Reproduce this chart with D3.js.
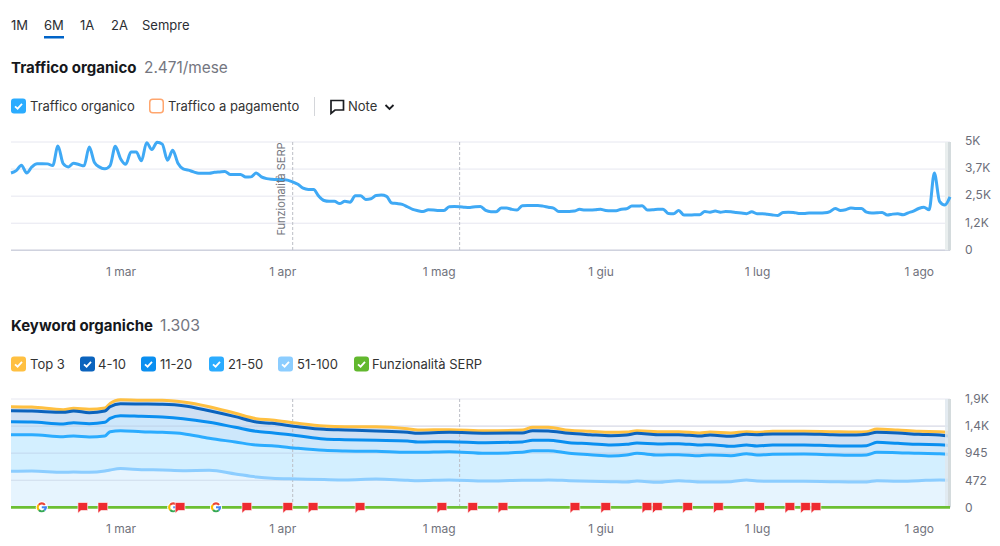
<!DOCTYPE html>
<html><head><meta charset="utf-8">
<script src="https://cdn.jsdelivr.net/npm/d3@7"></script>
<style>
html,body{margin:0;padding:0;background:#fff;overflow:hidden}
svg{display:block}
text{font-family:Inter,"Noto Sans",sans-serif}
</style></head><body>
<svg id="c" width="1000" height="546"></svg>
<script>
// ---------- data ----------
const rangeTabs = ["1M","6M","1A","2A","Sempre"];
const monthTicks = ["2021-03-01","2021-04-01","2021-05-01","2021-06-01","2021-07-01","2021-08-01"];
const monthLabels = ["1 mar","1 apr","1 mag","1 giu","1 lug","1 ago"];
const firstDay = "2021-02-08", lastDay = "2021-08-07";
const annotationDates = ["2021-04-03","2021-05-05"];

const trafficTicks = [0,1250,2500,3750,5000];
const trafficTickLabels = ["0","1,2K","2,5K","3,7K","5K"];
// daily organic traffic, from firstDay on
const trafficValues = [3570,3680,3930,3570,3850,4000,4000,3990,3910,4820,4000,3850,4020,3960,3900,4770,4050,3840,3760,3910,
4800,4230,3970,4540,4540,4130,4970,4650,4990,4900,4160,4620,4020,3760,3700,3620,3560,3560,3560,3600,
3620,3640,3500,3500,3500,3380,3390,3570,3390,3310,3280,3270,3270,3240,3160,3050,2870,2810,2810,2500,
2300,2260,2260,2160,2260,2220,2520,2520,2350,2380,2530,2550,2490,2180,2160,2120,2010,1890,1830,1790,
1870,1860,1840,1840,2010,2020,2010,1990,1980,2010,2020,1840,1780,1780,1950,1950,1890,1860,2060,2070,
2070,2070,2040,1990,1950,1790,1790,1790,1810,1890,1860,1860,1870,1890,1840,1830,1830,1900,1920,2040,
2040,2060,1860,1870,1890,1900,1700,1690,1840,1630,1630,1640,1640,1790,1760,1810,1760,1790,1780,1750,
1720,1690,1780,1690,1690,1660,1630,1610,1750,1760,1750,1700,1700,1720,1720,1720,1730,1790,1930,1840,
1870,1950,1930,1930,1760,1720,1730,1750,1630,1670,1690,1640,1730,1810,1930,1990,1870,3570,2260,2090,2470];

const keywordTicks = [0,472,945,1417,1890];
const keywordTickLabels = ["0","472","945","1,4K","1,9K"];
// day offsets from firstDay at which the keyword lines were read
const keywordDays = [0,4,10,12,15,18,19,21,25,29,33,38,43,47,50,55,60,64,70,76,78,84,91,98,100,103,107,111,115,118,120,124,128,132,134,138,141,143,146,152,157,162,164,166,170,174,178,180];
// cumulative stacked levels, as the axis reads them
const top3Levels = [1756,1750,1704,1727,1710,1733,1814,1878,1867,1867,1838,1756,1640,1547,1524,1465,1419,1407,1407,1372,1349,1355,1337,1349,1396,1396,1343,1326,1308,1314,1337,1320,1320,1297,1314,1297,1320,1308,1326,1326,1320,1314,1320,1367,1349,1326,1320,1303];
const pos4to10Levels = [1686,1681,1657,1681,1651,1681,1756,1808,1803,1797,1774,1686,1582,1489,1465,1407,1361,1349,1332,1308,1291,1308,1291,1297,1337,1332,1291,1268,1250,1262,1291,1268,1268,1244,1262,1239,1273,1268,1279,1279,1268,1262,1273,1308,1297,1273,1262,1239];
const pos11to20Levels = [1494,1489,1454,1477,1460,1483,1553,1599,1587,1576,1547,1483,1396,1326,1303,1250,1192,1180,1169,1157,1140,1146,1128,1140,1169,1169,1128,1111,1087,1099,1122,1105,1111,1087,1093,1064,1087,1070,1087,1087,1076,1070,1076,1134,1116,1099,1093,1076];
const pos21to50Levels = [1268,1268,1233,1244,1227,1244,1320,1337,1320,1308,1285,1204,1140,1087,1076,1029,994,983,977,959,959,971,942,959,989,989,942,919,896,913,942,913,919,901,913,901,936,913,925,930,919,907,913,959,954,942,936,919];
const pos51to100Levels = [628,634,611,616,611,634,651,675,657,651,640,645,582,529,506,494,483,477,494,471,465,477,459,471,471,477,465,454,448,442,459,436,465,442,442,448,477,459,454,454,448,442,442,465,454,465,477,471];
const serpDays = [0,180];
const serpValues = [0,0];
const flagDays = [13.75,17.6,32.4,45.2,53.05,57.9,66.9,82.6,88.5,94.3,108.1,114,121.9,123.9,129.7,135.6,143.5,149.3,152.3,154.3];
const googleDays = [5.9,31.1,39.3];

const keywordSeries = [
  {name:"Top 3", levels:top3Levels, line:"#ffc041", fill:"#d3e0f0"},
  {name:"4-10", levels:pos4to10Levels, line:"#0b63bd", fill:"#cfe0f3"},
  {name:"11-20", levels:pos11to20Levels, line:"#0a8ff0", fill:"#cde7fb"},
  {name:"21-50", levels:pos21to50Levels, line:"#2bacff", fill:"#d3efff"},
  {name:"51-100", levels:pos51to100Levels, line:"#8ccdff", fill:"#e6f4fe"}
];

// ---------- layout ----------
const svg = d3.select("#c");
const L = 11, R = 950;
const T1 = 142, B1 = 250.3, T2 = 399, B2 = 507.3;
const day0 = new Date(firstDay+"T00:00:00Z");
const dayToDate = d => new Date(+day0 + d*864e5);
const x = d3.scaleUtc().domain([day0,new Date(lastDay+"T00:00:00Z")]).range([L,R]);
const y1 = d3.scaleLinear().domain([0,5000]).range([B1,T1]);
const y2 = d3.scaleLinear().domain([0,1890]).range([B2,T2]);
const txt = (g,s,xx,yy,o={})=>g.append("text").text(s).attr("x",xx).attr("y",yy)
  .attr("font-size",o.size||13).attr("font-weight",o.weight||400).attr("fill",o.fill||"#333")
  .attr("dominant-baseline","central").attr("text-anchor",o.anchor||"start");

// tabs
const tabX = [11,44,80,111,142];
rangeTabs.forEach((t,i)=>txt(svg,t,tabX[i],25,{fill:"#2b2e33"}));
svg.append("rect").attr("x",44).attr("y",36).attr("width",20).attr("height",2.5).attr("fill","#0064c8");

// titles
txt(svg,"Traffico organico",11,67.5,{size:15,weight:700,fill:"#16181c"});
txt(svg,"2.471/mese",144,67.5,{size:15.4,fill:"#747680"});
txt(svg,"Keyword organiche",11,325,{size:15,weight:700,fill:"#16181c"});
txt(svg,"1.303",160,325,{size:15.8,fill:"#747680"});

// legend checkboxes
function box(bx,by,color,checked){
  const g = svg.append("g").attr("transform",`translate(${bx},${by})`);
  if(checked){
    g.append("rect").attr("width",15).attr("height",15).attr("rx",3).attr("fill",color);
    g.append("path").attr("d","M4 7.8 L6.6 10.2 L11 5.3").attr("fill","none").attr("stroke","#fff").attr("stroke-width",1.8);
  } else {
    g.append("rect").attr("x",.75).attr("y",.75).attr("width",13.5).attr("height",13.5).attr("rx",3)
      .attr("fill","#fff").attr("stroke",color).attr("stroke-width",1.5);
  }
}
box(11,98.5,"#2bacff",true); txt(svg,"Traffico organico",30,106);
box(149,98.5,"#ffa66e",false); txt(svg,"Traffico a pagamento",168,106);
svg.append("line").attr("x1",314.5).attr("x2",314.5).attr("y1",97).attr("y2",116).attr("stroke","#d4d6da");
svg.append("path").attr("d","M331 100.5 H343.5 V110 H335 L331 113.5 Z").attr("fill","none").attr("stroke","#1b1d21").attr("stroke-width",1.7);
txt(svg,"Note",348,105.5);
svg.append("path").attr("d","M385.5 105 L389.5 109 L393.5 105").attr("fill","none").attr("stroke","#1b1d21").attr("stroke-width",1.8);

const legendX = [11,80,141,209,278];
const legendTextX = [30,98,160,228,297];
keywordSeries.forEach((s,i)=>{
  box(legendX[i],356.5,s.line,true);
  txt(svg,s.name,legendTextX[i],364);
});
box(354,356.5,"#62b82e",true);
txt(svg,"Funzionalità SERP",372,364);

// grids + axes
function grid(g,scale,ticks,color){
  g.selectAll("line.g").data(ticks).join("line").attr("class","g")
    .attr("x1",L).attr("x2",R).attr("y1",d=>scale(d)).attr("y2",d=>scale(d)).attr("stroke",color).attr("stroke-width",1);
}
function axes(yScale,ticks,labels,labY,shift){
  const a = svg.append("g").attr("transform",`translate(965,${shift})`)
    .call(d3.axisRight(yScale).tickValues(ticks).tickSize(0).tickPadding(0).tickFormat((d,i)=>labels[i]));
  a.select(".domain").remove();
  a.selectAll("text").attr("font-size",12).attr("fill","#6c6e79").attr("font-family","Inter").attr("x",0);
  const b = svg.append("g").attr("transform",`translate(0,${labY})`)
    .call(d3.axisBottom(x).tickValues(monthTicks.map(d=>new Date(d+"T00:00:00Z"))).tickSize(0).tickPadding(0).tickFormat((d,i)=>monthLabels[i]));
  b.select(".domain").remove();
  b.selectAll("text").attr("font-size",12).attr("fill","#70727c").attr("font-family","Inter").attr("dy",0).attr("y",0).attr("dominant-baseline","central");
}

// ---- chart 1
const g1 = svg.append("g");
grid(g1,y1,trafficTicks,"#e6e7f0");
g1.append("line").attr("x1",L).attr("x2",R).attr("y1",B1).attr("y2",B1).attr("stroke","#cfd2de").attr("stroke-width",1.6);
annotationDates.forEach(d=>{
  const xx = x(new Date(d+"T00:00:00Z"));
  g1.append("line").attr("x1",xx).attr("x2",xx).attr("y1",T1).attr("y2",B1).attr("stroke","#bcbec6").attr("stroke-dasharray","3 2");
});
svg.append("text").text("Funzionalità SERP").attr("transform",`translate(281,189) rotate(-90)`)
  .attr("text-anchor","middle").attr("dominant-baseline","central").attr("font-size",11).attr("fill","#76787f");
g1.append("rect").attr("x",945).attr("y",T1).attr("width",3.5).attr("height",B1-T1).attr("fill","#e9eeee");
g1.append("rect").attr("x",948).attr("y",T1).attr("width",3).attr("height",B1-T1).attr("fill","#d4dbdd");
g1.append("path").datum(trafficValues).attr("fill","none").attr("stroke","#3fa9f5").attr("stroke-width",3)
  .attr("stroke-linejoin","round")
  .attr("d",d3.line().x((d,i)=>x(dayToDate(i))).y(d=>y1(d)).curve(d3.curveMonotoneX));
axes(y1,trafficTicks,trafficTickLabels,271,-1);

// ---- chart 2
const g2 = svg.append("g");
const areaOf = levels => d3.area().x((d,i)=>x(dayToDate(keywordDays[i]))).y0(y2(0)).y1(d=>y2(d)).curve(d3.curveMonotoneX)(levels);
const lineOf = levels => d3.line().x((d,i)=>x(dayToDate(keywordDays[i]))).y(d=>y2(d)).curve(d3.curveMonotoneX)(levels);
grid(g2,y2,keywordTicks,"#e6e7f0");
keywordSeries.forEach(s=>g2.append("path").attr("d",areaOf(s.levels)).attr("fill",s.fill));
const g2g = g2.append("g");
grid(g2g,y2,keywordTicks.slice(0,4),"rgba(150,158,190,.28)");
annotationDates.forEach(d=>{
  const xx = x(new Date(d+"T00:00:00Z"));
  g2.append("line").attr("x1",xx).attr("x2",xx).attr("y1",T2).attr("y2",B2).attr("stroke","#bcbec6").attr("stroke-dasharray","3 2");
});
keywordSeries.forEach(s=>g2.append("path").attr("d",lineOf(s.levels)).attr("fill","none").attr("stroke",s.line).attr("stroke-width",3).attr("stroke-linejoin","round"));
g2.append("rect").attr("x",945).attr("y",T2).attr("width",3.5).attr("height",B2-T2).attr("fill","#dfe7ee").attr("opacity",.85);
g2.append("rect").attr("x",948).attr("y",T2).attr("width",3).attr("height",B2-T2).attr("fill","#d4dbdd");
g2.append("path").attr("fill","none").attr("stroke","#6cbf33").attr("stroke-width",2.8)
  .attr("d",d3.line().x((d,i)=>x(dayToDate(serpDays[i]))).y(d=>y2(d))(serpValues));

// Google marks
const arc = d3.arc().innerRadius(2.9).outerRadius(5);
const gColors = [["#ea4335",-0.9,0.9],["#fbbc05",-2.3,-0.9],["#34a853",-3.9,-2.3],["#4285f4",1.4,2.4]];
googleDays.forEach(d=>{
  const g = g2.append("g").attr("transform",`translate(${x(dayToDate(d))},${y2(0)})`);
  g.append("circle").attr("r",6).attr("fill","#fff");
  gColors.forEach(c=>g.append("path").attr("fill",c[0]).attr("d",arc({startAngle:c[1],endAngle:c[2]})));
  g.append("rect").attr("x",0).attr("y",-1).attr("width",5).attr("height",2).attr("fill","#4285f4");
});
// flags
flagDays.forEach(d=>{
  g2.append("path").attr("transform",`translate(${x(dayToDate(d))},${y2(0)})`)
    .attr("d","M-4.8,-4.8 H4.9 V3.2 H-1.8 L-4.8,6 Z").attr("fill","#ee2a30").attr("stroke","#fff").attr("stroke-width",.8).attr("stroke-opacity",.75);
});
axes(y2,keywordTicks,keywordTickLabels,528,0);
</script>
</body></html>
